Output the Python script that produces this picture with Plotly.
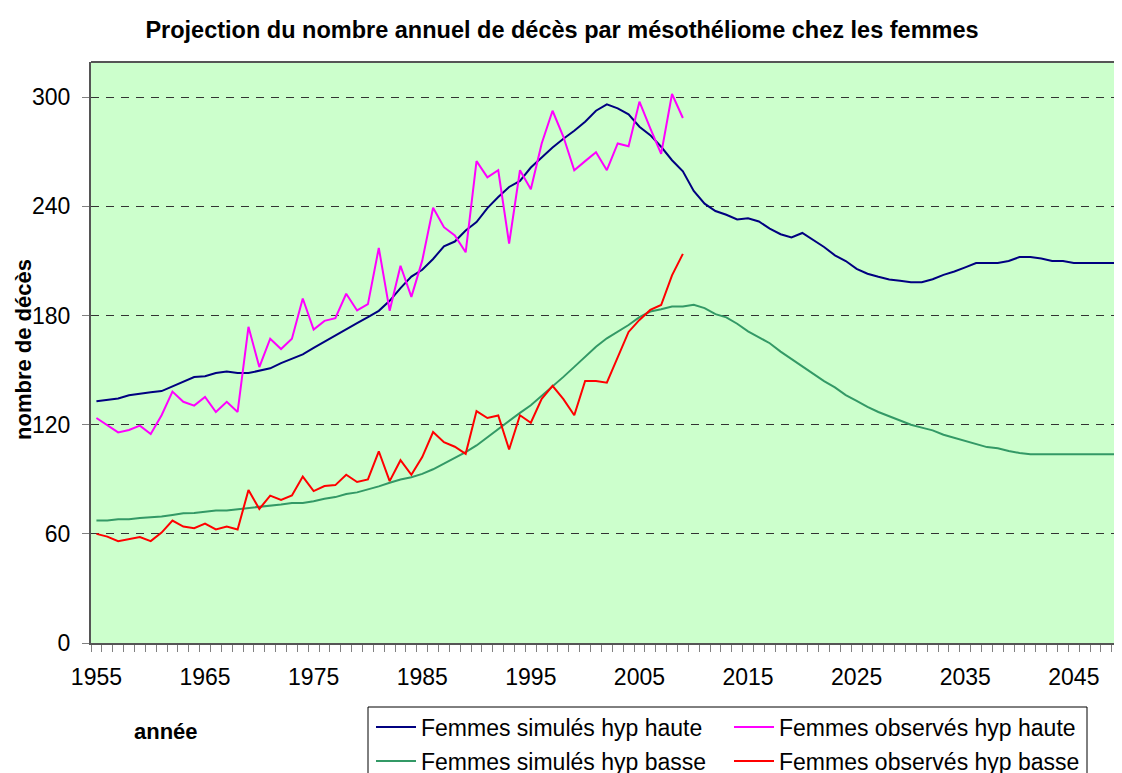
import plotly.graph_objects as go

years_sim = list(range(1955, 2051))
years_obs = list(range(1955, 2010))

sim_haute = [
    132.9, 133.6, 134.4, 136.2, 137.2, 137.9, 138.5, 141.2, 143.6, 146.2,
    146.7, 148.4, 149.3, 148.4, 148.4, 149.5, 151.0, 153.9, 156.5, 158.7,
    162.2, 165.7, 168.8, 172.5, 175.8, 179.1, 182.6, 188.1, 195.1, 201.4,
    205.2, 211.1, 218.1, 220.7, 226.8, 231.4, 239.1, 245.2, 250.7, 254.0,
    261.4, 266.9, 272.4, 277.2, 281.6, 286.6, 292.6, 296.1, 293.9, 290.6,
    283.8, 279.2, 272.8, 265.4, 259.3, 248.5, 241.5, 237.5, 235.4, 232.8,
    233.5, 231.7, 227.8, 224.7, 222.9, 225.4, 221.4, 217.7, 213.1, 210.0,
    205.7, 203.0, 201.3, 199.8, 199.1, 198.3, 198.3, 200.0, 202.4, 204.2,
    206.5, 208.9, 208.9, 208.9, 210.0, 212.2, 212.2, 211.4, 210.0, 210.0,
    208.9, 208.9, 208.9, 208.9, 208.9, 208.9,
]

sim_basse = [
    67.3, 67.3, 68.0, 68.0, 68.7, 68.9, 69.5, 70.4, 71.3, 71.5,
    72.2, 72.9, 72.9, 73.5, 74.2, 74.9, 75.5, 76.2, 77.0, 77.0,
    77.9, 79.3, 80.2, 81.9, 82.8, 84.4, 86.1, 88.1, 89.9, 91.1,
    93.0, 95.5, 98.5, 101.8, 104.9, 108.6, 113.2, 117.4, 122.0, 126.5,
    130.7, 135.8, 140.8, 146.3, 151.8, 157.4, 162.9, 167.5, 171.2, 174.8,
    179.1, 182.2, 183.5, 185.0, 185.0, 185.9, 184.1, 180.8, 179.0, 175.5,
    171.3, 168.1, 164.8, 160.2, 156.1, 151.9, 147.7, 144.0, 140.5, 136.3,
    133.1, 129.8, 127.0, 124.6, 122.4, 120.0, 118.4, 116.9, 114.5, 112.8,
    111.4, 109.5, 107.7, 107.1, 105.5, 104.5, 103.8, 103.8, 103.8, 103.8,
    103.8, 103.8, 103.8, 103.8, 103.8, 103.8,
]

obs_haute = [
    123.7, 119.7, 115.8, 117.1, 119.5, 114.9, 125.2, 138.2, 132.6, 130.5,
    135.3, 127.0, 132.6, 127.0, 173.8, 151.7, 167.3, 161.6, 167.3, 189.4,
    172.3, 177.1, 178.6, 192.0, 182.8, 186.3, 217.2, 182.7, 207.4, 190.3,
    210.2, 239.3, 228.6, 224.0, 214.8, 264.9, 256.0, 259.9, 219.6, 259.9,
    249.4, 274.6, 292.6, 278.3, 259.9, 264.9, 269.8, 259.9, 274.6, 273.1,
    297.6, 282.9, 268.9, 301.8, 288.6,
]

obs_basse = [
    60.0, 58.5, 56.0, 57.3, 58.2, 56.0, 60.7, 67.3, 64.0, 63.1,
    65.6, 62.4, 64.0, 62.4, 84.1, 73.7, 81.0, 78.6, 81.1, 91.5,
    83.5, 86.3, 86.8, 92.5, 88.5, 89.9, 105.4, 89.0, 100.5, 92.5,
    102.2, 116.0, 110.4, 107.9, 104.0, 127.5, 123.7, 125.1, 106.4, 125.2,
    121.1, 134.2, 141.4, 134.1, 125.2, 144.0, 144.0, 143.1, 157.4, 171.0,
    177.6, 183.1, 185.8, 202.1, 213.9,
]

x_tick_years = [1955, 1965, 1975, 1985, 1995, 2005, 2015, 2025, 2035, 2045]
y_ticks = [0, 60, 120, 180, 240, 300]

FONT = "Liberation Sans, Arial, sans-serif"

# Page has an 8px body margin: figure is drawn at (8, 8) of the page.
OFF = 8
W, H = 1122 - OFF, 773 - OFF
PL, PT, PB, PR = 91, 62, 643, 1122          # plot area in page pixels
PW, PH = PR - PL, PB - PT


def px(page_x):
    return (page_x - PL) / PW


def py(page_y):
    return (PB - page_y) / PH


fig = go.Figure()
fig.add_trace(go.Scatter(x=years_sim, y=sim_haute, mode="lines",
                         name="Femmes simulés hyp haute", legend="legend",
                         line=dict(color="#000080", width=2)))
fig.add_trace(go.Scatter(x=years_obs, y=obs_haute, mode="lines",
                         name="Femmes observés hyp haute", legend="legend",
                         line=dict(color="#FF00FF", width=2)))
fig.add_trace(go.Scatter(x=years_sim, y=sim_basse, mode="lines",
                         name="Femmes simulés hyp basse", legend="legend2",
                         line=dict(color="#339966", width=2)))
fig.add_trace(go.Scatter(x=years_obs, y=obs_basse, mode="lines",
                         name="Femmes observés hyp basse", legend="legend2",
                         line=dict(color="#FF0000", width=2)))

leg_common = dict(orientation="h", xanchor="left", yanchor="middle",
                  borderwidth=0, bgcolor="rgba(0,0,0,0)",
                  entrywidth=303, entrywidthmode="pixels", itemwidth=40,
                  font=dict(family=FONT, size=23, color="black"))

fig.update_layout(
    width=W, height=H,
    margin=dict(l=PL - OFF, r=0, t=PT - OFF, b=H - (PB - OFF), autoexpand=False),
    paper_bgcolor="white",
    plot_bgcolor="#CCFFCC",
    font=dict(family=FONT, size=23, color="black"),
    title=dict(text="<b>Projection du nombre annuel de décès par mésothéliome chez les femmes</b>",
               x=(562 - OFF) / W, xref="container", xanchor="center",
               y=1 - (30 - OFF) / H, yref="container", yanchor="middle",
               font=dict(family=FONT, size=23.5, color="black")),
    showlegend=True,
    legend=dict(x=px(371), y=py(727), **leg_common),
    legend2=dict(x=px(371), y=py(761), **leg_common),
    xaxis=dict(range=[1954.5, 1954.5 + PW / 10.86],
               tickmode="array", tickvals=x_tick_years,
               ticktext=[str(v) for v in x_tick_years],
               ticks="outside", ticklen=12, tickcolor="rgba(0,0,0,0)",
               showgrid=False, zeroline=False,
               showline=True, linecolor="#555555", linewidth=2,
               minor=dict(tick0=1954.5, dtick=1, ticks="outside", ticklen=7,
                          tickcolor="#808080", tickwidth=1, showgrid=False),
               tickfont=dict(family=FONT, size=23, color="black")),
    yaxis=dict(range=[0, 319.4], tickmode="array", tickvals=y_ticks,
               ticks="outside", ticklen=7, tickcolor="#808080",
               showgrid=True, gridcolor="#333333", griddash="8px,7px", gridwidth=1,
               zeroline=False, showline=True, linecolor="#555555", linewidth=2,
               ticklabelstandoff=7,
               tickfont=dict(family=FONT, size=23, color="black")),
)

# top border of the plot area
fig.add_shape(type="line", xref="paper", yref="paper", x0=0, x1=1, y0=1, y1=1,
              line=dict(color="#555555", width=2))
# legend frame (runs past the bottom edge, like the reference)
fig.add_shape(type="rect", xref="paper", yref="paper",
              x0=px(368), x1=px(1087), y0=py(707), y1=py(800),
              line=dict(color="black", width=1), fillcolor="rgba(0,0,0,0)",
              layer="below")

fig.add_annotation(text="<b>nombre de décès</b>", xref="paper", yref="paper",
                   x=px(23), y=py(350), textangle=-90,
                   showarrow=False, xanchor="center", yanchor="middle",
                   font=dict(family=FONT, size=22, color="black"))
fig.add_annotation(text="<b>année</b>", xref="paper", yref="paper",
                   x=px(166), y=py(731),
                   showarrow=False, xanchor="center", yanchor="middle",
                   font=dict(family=FONT, size=22, color="black"))

fig.write_html("out.html")
